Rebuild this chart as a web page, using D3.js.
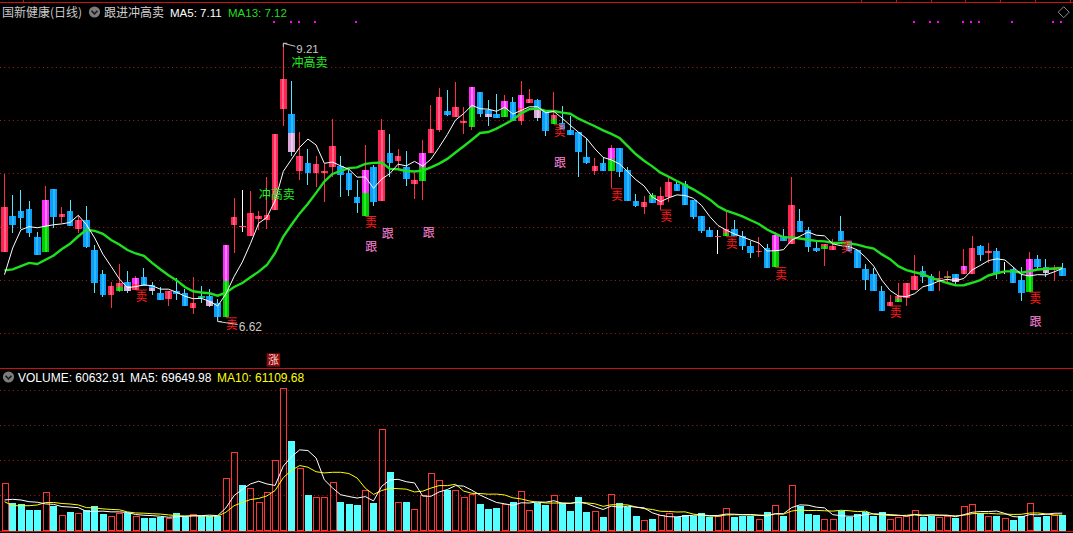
<!DOCTYPE html>
<html><head><meta charset="utf-8">
<script src="https://cdn.jsdelivr.net/npm/d3@7"></script>
<style>html,body{margin:0;padding:0;background:#000;overflow:hidden}</style>
</head><body><svg id="c" width="1073" height="533"></svg>
<script>
// ---------- data ----------
const title = "国新健康(日线)";
const indicatorName = "跟进冲高卖";
const priceLegend = [["MA5", "7.11"], ["MA13", "7.12"]];
const volLegend = [["VOLUME", "60632.91"], ["MA5", "69649.98"], ["MA10", "61109.68"]];

const open = [7.26,7.60,7.65,7.67,7.40,7.26,7.85,7.59,7.65,7.48,
7.56,7.28,7.06,6.86,6.90,6.98,6.91,7.03,6.95,6.88,
6.82,6.90,6.88,6.74,6.85,6.85,6.78,6.65,7.52,7.51,
7.41,7.57,7.56,7.66,8.60,8.56,8.02,8.10,8.00,8.00,
8.06,8.07,8.00,7.78,7.60,8.06,7.74,8.19,8.12,8.06,
7.90,7.93,8.19,8.41,8.58,8.53,8.47,8.43,8.76,8.59,
8.56,8.53,8.67,8.49,8.66,8.69,8.58,8.46,8.47,8.41,
8.39,8.15,8.02,8.10,8.02,8.24,8.03,7.74,7.68,7.80,
7.70,7.78,7.90,7.90,7.75,7.60,7.47,7.41,7.41,7.48,
7.41,7.32,7.26,7.30,7.12,7.41,7.34,7.55,7.47,7.30,
7.29,7.28,7.46,7.37,7.28,7.10,7.06,6.90,6.76,6.79,
6.83,6.91,7.08,7.04,7.01,7.02,7.06,7.06,7.06,7.32,
7.25,7.27,7.08,7.10,7.00,6.89,7.20,7.12,7.09,7.11];
const high = [7.99,7.80,7.84,7.74,7.45,7.88,7.85,7.68,7.75,7.61,
7.69,7.33,7.09,6.98,7.15,7.08,7.04,7.11,6.98,6.93,
6.90,7.02,6.92,7.03,6.94,6.92,6.82,7.33,7.77,7.84,
7.83,7.65,7.97,8.37,9.21,8.87,8.39,8.23,8.16,8.09,
8.51,8.16,8.03,7.94,8.27,8.08,8.51,8.37,8.23,8.21,
8.00,8.31,8.64,8.80,8.78,8.86,8.62,8.81,8.76,8.69,
8.74,8.73,8.72,8.87,8.79,8.70,8.58,8.76,8.63,8.54,
8.39,8.33,8.14,8.15,8.27,8.24,8.06,7.81,7.79,7.82,
7.87,7.97,7.92,7.93,7.75,7.60,7.50,7.47,7.66,7.56,
7.46,7.37,7.40,7.34,7.45,7.48,7.97,7.67,7.50,7.36,
7.34,7.38,7.60,7.37,7.28,7.15,7.11,6.94,6.86,6.97,
6.97,7.23,7.13,7.06,7.08,7.08,7.06,7.29,7.41,7.33,
7.35,7.30,7.17,7.12,7.12,7.26,7.23,7.20,7.14,7.16];
const low = [7.26,7.44,7.48,7.40,7.23,7.26,7.49,7.53,7.51,7.44,
7.30,6.88,6.84,6.74,6.89,6.88,6.91,6.94,6.86,6.81,
6.76,6.81,6.76,6.68,6.78,6.75,6.62,6.65,7.25,7.45,
7.41,7.47,7.48,7.66,8.44,8.16,7.94,7.89,7.87,7.73,
7.97,7.78,7.79,7.63,7.60,7.69,7.74,7.97,8.03,7.88,
7.76,7.75,8.19,8.39,8.54,8.53,8.37,8.41,8.53,8.44,
8.52,8.53,8.49,8.45,8.66,8.49,8.35,8.46,8.42,8.36,
7.97,8.09,7.98,8.02,7.86,7.97,7.74,7.68,7.62,7.72,
7.66,7.73,7.83,7.70,7.57,7.44,7.40,7.24,7.41,7.41,
7.28,7.21,7.22,7.11,7.12,7.37,7.34,7.45,7.26,7.26,
7.13,7.28,7.37,7.27,7.11,6.91,6.90,6.71,6.76,6.79,
6.76,6.91,6.97,6.90,6.90,6.98,6.96,7.06,7.06,7.18,
7.16,7.01,7.06,6.97,6.80,6.89,7.09,7.03,6.99,7.04];
const close = [7.68,7.52,7.58,7.44,7.23,7.75,7.59,7.62,7.51,7.56,
7.31,6.97,6.86,6.94,6.97,6.90,7.02,6.94,6.90,6.81,
6.90,6.87,6.76,6.78,6.83,6.76,6.65,7.33,7.59,7.51,
7.63,7.60,7.61,8.37,8.88,8.20,8.16,8.00,8.09,8.02,
8.26,7.98,7.84,7.72,8.03,7.73,8.41,8.10,8.16,7.95,
7.94,8.19,8.42,8.72,8.55,8.62,8.49,8.81,8.56,8.53,
8.52,8.68,8.49,8.73,8.70,8.52,8.40,8.55,8.42,8.36,
8.20,8.10,8.07,8.02,8.24,8.01,7.74,7.69,7.73,7.72,
7.79,7.92,7.83,7.70,7.59,7.46,7.40,7.41,7.48,7.41,
7.32,7.25,7.27,7.11,7.42,7.37,7.70,7.45,7.31,7.27,
7.34,7.32,7.37,7.27,7.11,7.00,6.90,6.71,6.79,6.85,
6.97,7.04,7.03,6.90,7.02,7.04,6.98,7.13,7.30,7.23,
7.27,7.06,7.08,6.97,6.88,7.20,7.12,7.07,7.11,7.04];
const volume = [188800,107900,103900,80800,80200,154800,98200,59400,71500,67500,
80800,97000,64700,56600,67500,67500,56600,49700,49700,53800,
47300,67500,53800,63500,57800,57800,57800,209000,314100,181900,
168600,112000,154800,283000,572800,359800,249400,141500,132200,132200,
195200,112000,105100,101100,161700,107900,407000,234400,114400,112000,
83700,141500,229200,202100,161700,161700,132200,145500,105100,84900,
88900,105100,113200,157600,80800,110400,101100,141500,107900,76800,
134600,72800,76800,53800,145500,110400,94200,57800,40400,44500,
59400,67500,53800,59400,56600,67500,53800,56600,87700,53800,
57800,57800,43300,71500,99800,57800,180700,98200,64700,60600,
43300,43300,76800,53800,64700,74000,57800,71500,43300,53800,
56600,79600,53800,57800,51300,57800,48500,95800,103900,67500,
57800,57800,47300,40400,57800,107900,53800,57800,60600,60633];

// moving-average values at the left edge (window starts before the visible bars)
const ma5Head = [7.05, 7.30, 7.47, 7.50];
const ma13Head = [7.09,7.10,7.13,7.16,7.15,7.19,7.23,7.29,7.34,7.41,7.47,7.46];
const volMa5Head = [121300,124100,121300,114400];
const volMa10Head = [114400,98200,98200,98200,101100,111200,111200,107100,105100];

// indicator overlays
const greenIdx = [5,14,24,27,44,51,57,61,67,74,79,88,94,100,109,115,125];
const magentaIdx = [5,15,16,18,25,27,35,44,51,57,59,61,63,65,74,94,116,117,125,127];
const sellIdx = [16,27,44,67,74,80,88,94,102,108,125];
const followIdx = [44,46,51,67,125];
const followPrice = [7.37,7.49,7.50,8.16,6.67];
const rushIdx = [35,31];
const rushPrice = [9.10,7.86];
const limitUpIdx = [33];
const dotIdx = [33,35,36,38,43,111,113,114,117,118,119,123,128,129];
const priceGrid = [6.5,7.0,7.5,8.0,8.5,9.0];
const volGrid = [142000,284000,426000,568000];
const topTickX = [23,861,896,931,965,1000,1035,1070];

// ---------- drawing ----------
const W = 1073, H = 533;
const svg = d3.select("#c");
const n = close.length;
const LAT = "'Liberation Sans','Noto Sans CJK SC',sans-serif";
const CJK = "'Noto Sans CJK SC','Liberation Sans',sans-serif";
svg.append("rect").attr("width", W).attr("height", H).attr("fill", "#000");

const x = d3.scaleBand().domain(d3.range(n)).range([0.4, 0.4 + 8.2 * n]);
const cx = i => x(i) + x.bandwidth() / 2;
const y = d3.scaleLinear().domain([6.5, 9.0]).range([333.3, 66.7]);
const yv = d3.scaleLinear().domain([0, 568000]).range([530, 389.5]);

// grids
const g0 = svg.append("g");
priceGrid.forEach(v => g0.append("line").attr("x1", 0).attr("x2", W)
  .attr("y1", Math.round(y(v)) + 0.5).attr("y2", Math.round(y(v)) + 0.5)
  .attr("stroke", "#a81a1a").attr("stroke-dasharray", "1,3.3"));
volGrid.forEach(v => g0.append("line").attr("x1", 0).attr("x2", W)
  .attr("y1", Math.round(yv(v)) + 0.5).attr("y2", Math.round(yv(v)) + 0.5)
  .attr("stroke", "#a81a1a").attr("stroke-dasharray", "1,3.3"));

// panel frame lines
[2.5, 368.5, 531.5].forEach(v => svg.append("line").attr("x1", 0).attr("x2", W)
  .attr("y1", v).attr("y2", v).attr("stroke", "#cc1010").attr("stroke-width", 1.2));
topTickX.forEach(v => svg.append("line").attr("x1", v + 0.5).attr("x2", v + 0.5)
  .attr("y1", 0).attr("y2", 3).attr("stroke", "#cc1010"));

// moving averages
function ma(arr, k, head) {
  return arr.map((_, i) => i < k - 1 ? head[i] : d3.mean(arr.slice(i - k + 1, i + 1)));
}
const ma5 = ma(close, 5, ma5Head), ma13 = ma(close, 13, ma13Head);
const vma5 = ma(volume, 5, volMa5Head), vma10 = ma(volume, 10, volMa10Head);

const isUp = i => close[i] > open[i] || (close[i] === open[i] && (i === 0 || close[i] >= close[i - 1]));

// candles
const COL = {up:"#ff2452", upIn:"#ff6488", dn:"#0a9ef8", dnIn:"#2bb8ff",
  mag:"#ff28ff", magIn:"#ff80ff", grn:"#00cc00", grnIn:"#2ae82a",
  pink:"#d8aad8", pinkIn:"#ecc6ec", upWick:"#ff2d45", dnWick:"#4fe6ff"};
const gc = svg.append("g").attr("shape-rendering", "crispEdges");
const bw = 6.7;
function seg(i, y1, y2, base, inner) {
  const h = Math.max(1, y2 - y1);
  gc.append("rect").attr("x", cx(i) - bw / 2).attr("y", y1).attr("width", bw).attr("height", h).attr("fill", base);
  gc.append("rect").attr("x", cx(i) - 1).attr("y", y1).attr("width", 2).attr("height", h).attr("fill", inner);
}
for (let i = 0; i < n; i++) {
  const doji = close[i] === open[i];
  const up = close[i] > open[i];
  const wx = Math.floor(cx(i));
  gc.append("rect").attr("x", wx).attr("y", y(high[i])).attr("width", 1)
    .attr("height", Math.max(1, y(low[i]) - y(high[i])))
    .attr("fill", doji ? "#ffffff" : (up ? COL.upWick : COL.dnWick));
  if (doji) {
    gc.append("rect").attr("x", cx(i) - bw / 2).attr("y", y(close[i])).attr("width", bw).attr("height", 1).attr("fill", "#ff5070");
    continue;
  }
  const yt = y(Math.max(open[i], close[i])), yb = y(Math.min(open[i], close[i]));
  const mid = (yt + yb) / 2;
  const g = greenIdx.includes(i), m = magentaIdx.includes(i);
  if (!g && !m) {
    up ? seg(i, yt, yb, COL.up, COL.upIn) : seg(i, yt, yb, COL.dn, COL.dnIn);
    continue;
  }
  if (up) {
    m ? seg(i, yt, mid, COL.mag, COL.magIn) : seg(i, yt, mid, COL.up, COL.upIn);
    g ? seg(i, mid, yb, COL.grn, COL.grnIn) : seg(i, mid, yb, COL.up, COL.upIn);
  } else {
    g ? seg(i, yt, mid, COL.grn, COL.grnIn) : seg(i, yt, mid, COL.dn, COL.dnIn);
    m ? seg(i, mid, yb, COL.pink, COL.pinkIn) : seg(i, mid, yb, COL.dn, COL.dnIn);
  }
}

// price MA lines
const line = (arr, sc) => d3.line().x((d, i) => cx(i)).y(d => sc(d))(arr);
svg.append("path").attr("d", line(ma13, y)).attr("fill", "none").attr("stroke", "#1ee01e").attr("stroke-width", 2.4);
svg.append("path").attr("d", line(ma5, y)).attr("fill", "none").attr("stroke", "#ffffff").attr("stroke-width", 1);

// volume bars
const gvb = svg.append("g").attr("shape-rendering", "crispEdges");
for (let i = 0; i < n; i++) {
  const yt = yv(volume[i]);
  if (isUp(i)) {
    const x0 = Math.round(cx(i) - 3) + 0.5, y0 = Math.round(yt) + 0.5;
    gvb.append("rect").attr("x", x0).attr("y", y0).attr("width", 6).attr("height", 530.5 - y0)
      .attr("fill", "none").attr("stroke", "#ff3535").attr("stroke-width", 1);
  } else {
    gvb.append("rect").attr("x", Math.round(cx(i) - 3.3)).attr("y", Math.round(yt)).attr("width", 7)
      .attr("height", 531 - Math.round(yt)).attr("fill", "#54ffff");
  }
}
svg.append("path").attr("d", line(vma10, yv)).attr("fill", "none").attr("stroke", "#ffff00").attr("stroke-width", 1);
svg.append("path").attr("d", line(vma5, yv)).attr("fill", "none").attr("stroke", "#ffffff").attr("stroke-width", 1);

// annotations
const ga = svg.append("g");
sellIdx.forEach(i => {
  const yy = y(low[i]);
  ga.append("line").attr("x1", cx(i)).attr("x2", cx(i) + 11).attr("y1", yy + 0.5).attr("y2", yy + 0.5).attr("stroke", "#ff1a1a");
  ga.append("text").attr("x", cx(i)).attr("y", yy + 11.5).attr("font-family", CJK).attr("font-size", 11.5)
    .attr("fill", "#ff1a1a").text("卖");
});
followIdx.forEach((i, k) => ga.append("text").attr("x", cx(i)).attr("y", y(followPrice[k]) + 10.5)
  .attr("font-family", CJK).attr("font-size", 12).attr("fill", "#ff80d6").text("跟"));
rushIdx.forEach((i, k) => ga.append("text").attr("x", cx(i)).attr("y", y(rushPrice[k]) + 10.5)
  .attr("font-family", CJK).attr("font-size", 12).attr("fill", "#22ee22").text("冲高卖"));
dotIdx.forEach(i => ga.append("rect").attr("x", Math.round(cx(i)) - 2).attr("y", 21).attr("width", 2).attr("height", 2).attr("fill", "#ff00ff"));
limitUpIdx.forEach(i => {
  ga.append("rect").attr("x", cx(i) - 8.4).attr("y", 353.3).attr("width", 13.4).attr("height", 13.4).attr("fill", "#8a0a0a");
  ga.append("text").attr("x", cx(i) - 1.7).attr("y", 364.3).attr("text-anchor", "middle").attr("font-family", CJK)
    .attr("font-size", 11).attr("fill", "#ffd6d6").text("涨");
});

// max / min markers
const iMax = d3.maxIndex(high), iMin = d3.minIndex(low);
{
  const px = cx(iMax), py = y(high[iMax]);
  ga.append("path").attr("d", `M${px + 4},${py - 1} L${px},${py - 1} L${px},${py + 3} M${px},${py - 1} L${px + 12},${py + 2}`)
    .attr("fill", "none").attr("stroke", "#c8c8c8");
  ga.append("text").attr("x", px + 13).attr("y", py + 8.3).attr("font-family", LAT).attr("font-size", 11.5)
    .attr("fill", "#c8c8c8").text(high[iMax].toFixed(2));
  const qx = cx(iMin), qy = y(low[iMin]);
  ga.append("path").attr("d", `M${qx},${qy - 3} L${qx},${qy + 1} L${qx + 4},${qy + 1} M${qx},${qy + 1} L${qx + 20},${qy + 4}`)
    .attr("fill", "none").attr("stroke", "#c8c8c8");
  ga.append("text").attr("x", qx + 21).attr("y", qy + 10).attr("font-family", LAT).attr("font-size", 12)
    .attr("fill", "#c8c8c8").text(low[iMin].toFixed(2));
}

// headers
function chevronIcon(cxp, cyp) {
  svg.append("circle").attr("cx", cxp).attr("cy", cyp).attr("r", 5.6).attr("fill", "#7c7c7c");
  svg.append("path").attr("d", `M${cxp - 3},${cyp - 1.2} L${cxp},${cyp + 1.8} L${cxp + 3},${cyp - 1.2}`)
    .attr("fill", "none").attr("stroke", "#1a1a1a").attr("stroke-width", 1.6);
}
svg.append("text").attr("x", 2).attr("y", 17).attr("font-family", CJK).attr("font-size", 12).attr("fill", "#c8c8c8").text(title);
chevronIcon(94.5, 12);
svg.append("text").attr("x", 104).attr("y", 17).attr("font-family", CJK).attr("font-size", 12).attr("fill", "#d0d0d0").text(indicatorName);
const plx = [170, 228], plc = ["#ffffff", "#22dd22"];
priceLegend.forEach((d, k) => svg.append("text").attr("x", plx[k]).attr("y", 17).attr("font-family", LAT)
  .attr("font-size", 11.5).attr("fill", plc[k]).text(`${d[0]}: ${d[1]}`));

chevronIcon(8.5, 377);
const vlx = [18, 130, 217], vlc = ["#ffffff", "#ffffff", "#ffff00"];
volLegend.forEach((d, k) => svg.append("text").attr("x", vlx[k]).attr("y", 381.5).attr("font-family", LAT)
  .attr("font-size", 12).attr("fill", vlc[k]).text(`${d[0]}: ${d[1]}`));

// diamond at top right
svg.append("path").attr("d", "M1063.7,6.7 L1069.2,12.2 L1063.7,17.7 L1058.2,12.2 Z")
  .attr("fill", "none").attr("stroke", "#8c8c8c");
</script></body></html>
